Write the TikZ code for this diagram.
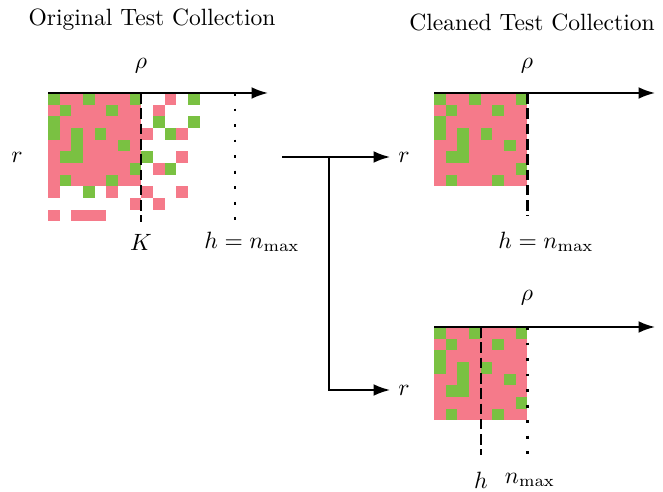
\documentclass[tikz,border=0pt]{standalone}
\usepackage{amsmath,amssymb}
\usepackage{tikz}
\usetikzlibrary{arrows.meta}

\definecolor{P}{RGB}{245,122,138}
\definecolor{G}{RGB}{122,193,66}
\colorlet{W}{white}

% relevance grid: rows = r, columns = rho
\def\cell{11.67}
\def\collection{%
  {G,P,P,G,P,P,P,G,W,W,P,W,G,W,W,W},
  {P,G,P,P,P,G,P,P,W,P,W,W,W,W,W,W},
  {G,P,P,P,P,P,P,P,W,G,W,W,G,W,W,W},
  {G,P,G,P,G,P,P,P,P,W,G,P,W,W,W,W},
  {P,P,G,P,P,P,G,P,W,W,W,W,W,W,W,W},
  {P,G,G,P,P,P,P,P,G,W,W,P,W,W,W,W},
  {P,P,P,P,P,P,P,G,W,P,G,W,W,W,W,W},
  {P,G,P,P,P,G,P,P,W,W,W,W,W,W,W,W},
  {P,W,W,G,W,P,W,W,P,W,W,P,W,W,W,W},
  {W,W,W,W,W,W,W,P,W,P,W,W,W,W,W,W},
  {P,W,P,P,P,W,W,W,W,W,W,W,W,W,W,W}}

\newcommand{\drawcollection}[4]{%
  \foreach \row [count=\j from 0] in \collection {
    \foreach \c [count=\i from 0] in \row {
      \ifnum\j<#3 \ifnum\i<#4
        \fill[\c] ({#1+\i*\cell},{#2+\j*\cell}) rectangle ++(\cell,\cell);
      \fi\fi
    }
  }}

\begin{document}
\begin{tikzpicture}[x=0.4245pt,y=-0.4245pt,
    axis/.style={thick,-{Latex[length=7pt,width=5pt]}},
    cutline/.style={line width=1.1pt,dash pattern=on 4.5pt off 2pt},
    maxline/.style={line width=1.1pt,dash pattern=on 1.2pt off 5.4pt}]
  \useasboundingbox (0,0) rectangle (663,492);

  % original collection
  \node (orig) at (152,20) {Original Test Collection};
  \drawcollection{48}{93}{11}{16}
  \draw[axis] (48,93) -- (268,93);
  \node (rhoA) at (141,66) {$\rho$};
  \node (rA) at (17,157) {$r$};
  \draw[cutline] (141,93) -- (141,222);
  \draw[maxline] (235,93) -- (235,222);
  \node (KA) at (141,242) {$K$};
  \node (hA) at (252,242) {$h = n_{\max}$};

  % cleaned collection, h = n_max
  \node (clean) at (532,22) {Cleaned Test Collection};
  \drawcollection{434}{93}{8}{8}
  \draw[axis] (434,93) -- (655,93);
  \node (rhoB) at (527,66) {$\rho$};
  \node (rB) at (404,157) {$r$};
  \draw[cutline] (527.7,93) -- (527.7,216);
  \draw[maxline] (527.7,93) -- (527.7,216);
  \node (hB) at (546,242) {$h = n_{\max}$};

  % cleaned collection, h < n_max
  \drawcollection{434}{327}{8}{8}
  \draw[axis] (434,327) -- (655,327);
  \node (rhoC) at (527,298) {$\rho$};
  \node (rC) at (404,390) {$r$};
  \draw[cutline] (481,327) -- (481,455);
  \draw[maxline] (527.7,327) -- (527.7,455);
  \node (hC) at (481,480) {$h$};
  \node (nC) at (530,480) {$n_{\max}$};

  % split
  \coordinate (from) at (282,157);
  \coordinate (fork) at (329,157);
  \draw[axis] (from) -- (rB.west);
  \draw[axis] (fork) |- (rC.west);
\end{tikzpicture}
\end{document}
